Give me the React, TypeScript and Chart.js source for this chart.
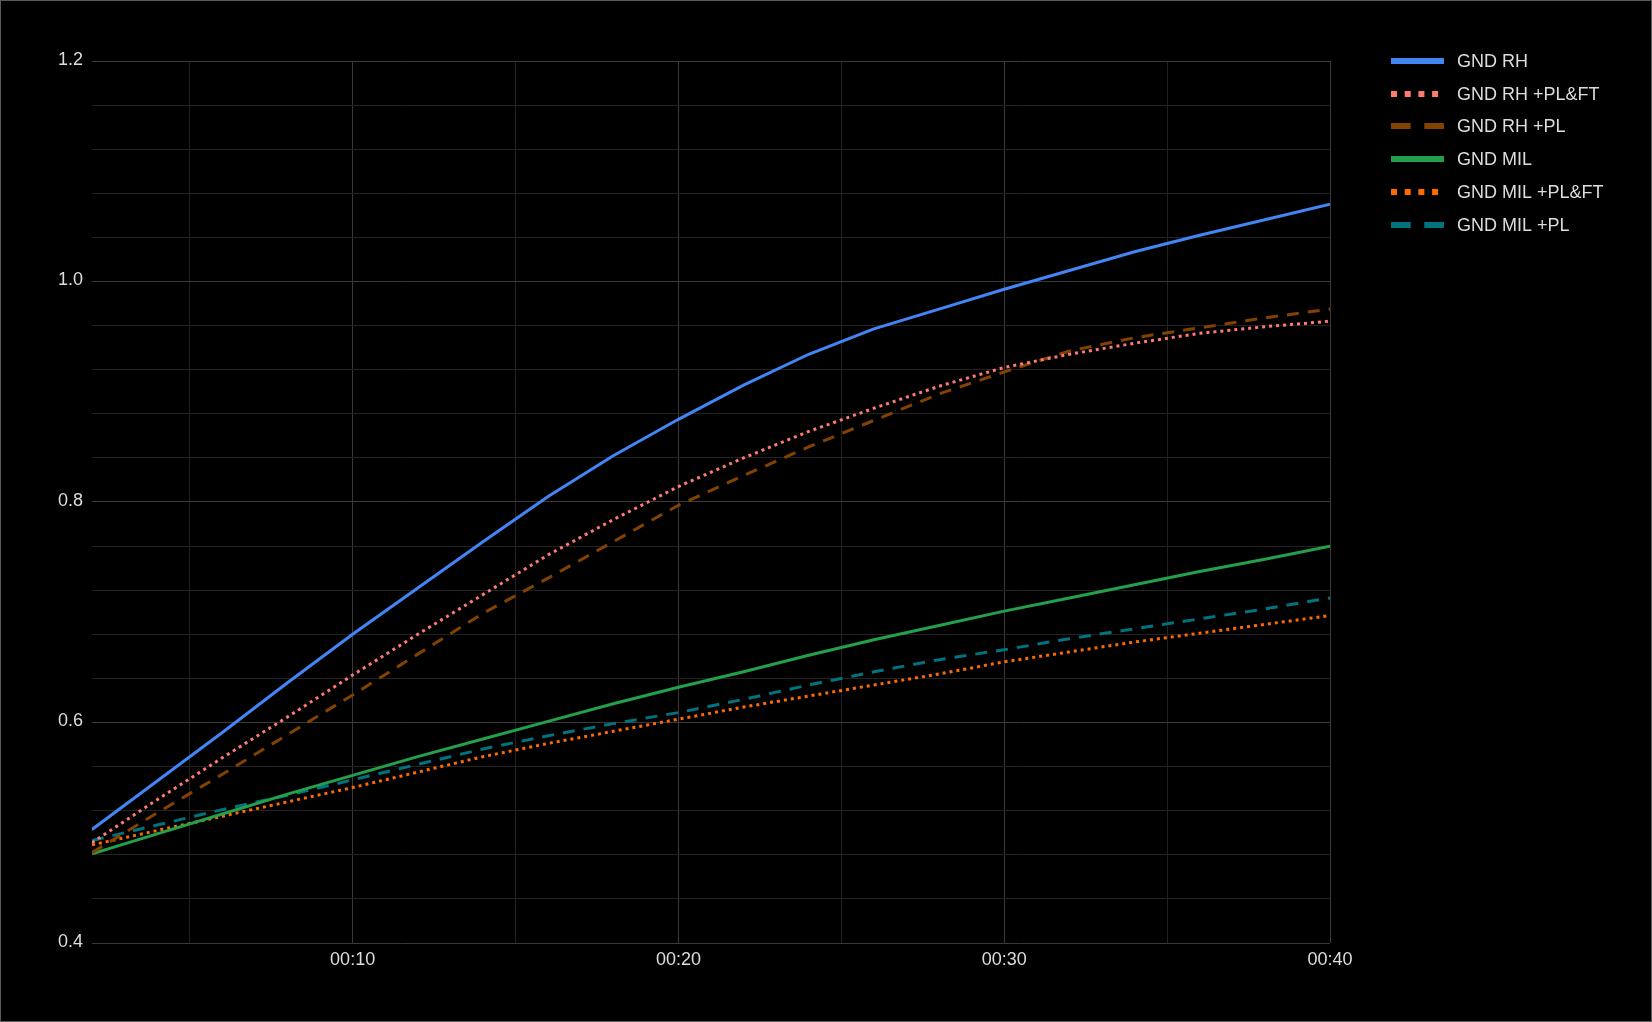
import React, { useEffect, useRef } from 'react';
import { Chart, registerables } from 'chart.js';

Chart.register(...registerables);

// ---- data ----
const TIMES = [2, 4, 6, 8, 10, 12, 14, 16, 18, 20, 22, 24, 26, 28, 30, 32, 34, 36, 38, 40];

const GND_RH = [0.503, 0.547, 0.591, 0.636, 0.680, 0.722, 0.764, 0.805, 0.842, 0.875, 0.906, 0.934, 0.957, 0.975, 0.993, 1.010, 1.027, 1.042, 1.056, 1.070];
const GND_RH_PL_FT = [0.491, 0.530, 0.568, 0.605, 0.643, 0.680, 0.716, 0.752, 0.784, 0.814, 0.840, 0.864, 0.885, 0.905, 0.922, 0.934, 0.944, 0.953, 0.959, 0.964];
const GND_RH_PL = [0.482, 0.518, 0.553, 0.589, 0.625, 0.662, 0.699, 0.731, 0.764, 0.797, 0.824, 0.850, 0.874, 0.898, 0.918, 0.937, 0.949, 0.958, 0.967, 0.975];
const GND_MIL = [0.481, 0.499, 0.517, 0.535, 0.552, 0.569, 0.585, 0.601, 0.617, 0.632, 0.646, 0.661, 0.675, 0.688, 0.701, 0.713, 0.725, 0.737, 0.748, 0.760];
const GND_MIL_PL_FT = [0.489, 0.502, 0.515, 0.528, 0.541, 0.555, 0.569, 0.581, 0.592, 0.603, 0.614, 0.624, 0.634, 0.644, 0.655, 0.664, 0.673, 0.681, 0.689, 0.697];
const GND_MIL_PL = [0.493, 0.507, 0.521, 0.534, 0.548, 0.562, 0.576, 0.588, 0.599, 0.609, 0.621, 0.634, 0.646, 0.657, 0.666, 0.676, 0.685, 0.694, 0.703, 0.713];

const SERIES_NAMES = ['GND RH', 'GND RH +PL&FT', 'GND RH +PL', 'GND MIL', 'GND MIL +PL&FT', 'GND MIL +PL'];
const SERIES_VALUES = [GND_RH, GND_RH_PL_FT, GND_RH_PL, GND_MIL, GND_MIL_PL_FT, GND_MIL_PL];

const X_TICK_VALUES = [5, 10, 15, 20, 25, 30, 35, 40];
const X_TICK_LABELS = ['', '00:10', '', '00:20', '', '00:30', '', '00:40'];
const Y_TICK_VALUES = [0.4, 0.44, 0.48, 0.52, 0.56, 0.6, 0.64, 0.68, 0.72, 0.76, 0.8, 0.84, 0.88, 0.92, 0.96, 1.0, 1.04, 1.08, 1.12, 1.16, 1.2];
const Y_TICK_LABELS = ['0.4', '', '', '', '', '0.6', '', '', '', '', '0.8', '', '', '', '', '1.0', '', '', '', '', '1.2'];

// ---- styles ----
const SERIES_COLORS = ['#4285F4', '#FF7B72', '#844200', '#23A049', '#FF6A00', '#00737F'];
const SERIES_DASH = [[], [3, 4], [12, 9], [], [3, 4], [12, 9]];
const LEGEND_DASH = [[], [6, 7.7], [19.7, 13.6], [], [6, 7.7], [19.7, 13.6]];
const FONT_FAMILY = "'Liberation Sans', Arial, sans-serif";
const TEXT_COLOR = '#dddddd';
const GRID_MAJOR = '#3a3a3a';
const GRID_MINOR = '#222222';

const legendPlugin = {
  id: 'customLegend',
  afterDraw(chart: any) {
    const ctx = chart.ctx as CanvasRenderingContext2D;
    ctx.save();
    SERIES_NAMES.forEach((name, i) => {
      const cy = Math.round(59.7 + i * 32.86);
      ctx.beginPath();
      ctx.setLineDash(LEGEND_DASH[i]);
      ctx.lineWidth = 6;
      ctx.lineCap = 'butt';
      ctx.strokeStyle = SERIES_COLORS[i];
      ctx.moveTo(1390, cy);
      ctx.lineTo(1443, cy);
      ctx.stroke();
      ctx.setLineDash([]);
      ctx.fillStyle = TEXT_COLOR;
      ctx.font = `18px ${FONT_FAMILY}`;
      ctx.textAlign = 'left';
      ctx.textBaseline = 'alphabetic';
      ctx.fillText(name, 1456, cy + 5.5);
    });
    ctx.restore();
  },
};

export default function App() {
  const ref = useRef<HTMLCanvasElement>(null);

  useEffect(() => {
    const canvas = ref.current;
    if (!canvas) return;
    const chart = new Chart(canvas, {
      type: 'line',
      data: {
        datasets: SERIES_NAMES.map((name, i) => ({
          label: name,
          data: TIMES.map((t, j) => ({ x: t, y: SERIES_VALUES[i][j] })),
          borderColor: SERIES_COLORS[i],
          backgroundColor: SERIES_COLORS[i],
          borderDash: SERIES_DASH[i],
          borderWidth: 3,
          pointRadius: 0,
          tension: 0,
          fill: false,
        })),
      },
      options: {
        animation: false,
        responsive: false,
        devicePixelRatio: 1,
        layout: { padding: { left: 0, top: 60, right: 321, bottom: 0 } },
        plugins: {
          legend: { display: false },
          tooltip: { enabled: false },
        },
        scales: {
          x: {
            type: 'linear',
            min: 2,
            max: 40,
            afterBuildTicks: (axis: any) => {
              axis.ticks = X_TICK_VALUES.map((v) => ({ value: v }));
            },
            afterFit: (axis: any) => {
              axis.height = 78;
            },
            ticks: {
              autoSkip: false,
              maxRotation: 0,
              minRotation: 0,
              padding: 6,
              color: TEXT_COLOR,
              font: { family: FONT_FAMILY, size: 18 },
              callback: (_v: any, i: number) => X_TICK_LABELS[i],
            },
            grid: {
              drawTicks: false,
              lineWidth: 1,
              color: (c: any) => (X_TICK_LABELS[c.index] ? GRID_MAJOR : GRID_MINOR),
            },
            border: { display: false },
          },
          y: {
            type: 'linear',
            min: 0.4,
            max: 1.2,
            afterBuildTicks: (axis: any) => {
              axis.ticks = Y_TICK_VALUES.map((v) => ({ value: v }));
            },
            afterFit: (axis: any) => {
              axis.width = 91;
            },
            ticks: {
              autoSkip: false,
              padding: 9,
              labelOffset: -1,
              color: TEXT_COLOR,
              font: { family: FONT_FAMILY, size: 18 },
              callback: (_v: any, i: number) => Y_TICK_LABELS[i],
            },
            grid: {
              drawTicks: false,
              lineWidth: 1,
              color: (c: any) => (Y_TICK_LABELS[c.index] ? GRID_MAJOR : GRID_MINOR),
            },
            border: { display: false },
          },
        },
      },
      plugins: [legendPlugin],
    } as any);
    return () => chart.destroy();
  }, []);

  return (
    <div
      style={{
        position: 'absolute',
        left: 0,
        top: 0,
        width: 1652,
        height: 1022,
        boxSizing: 'border-box',
        border: '1px solid #5a5a5a',
        background: '#000000',
      }}
    >
      <canvas ref={ref} width={1650} height={1020} style={{ display: 'block', width: 1650, height: 1020 }} />
    </div>
  );
}
